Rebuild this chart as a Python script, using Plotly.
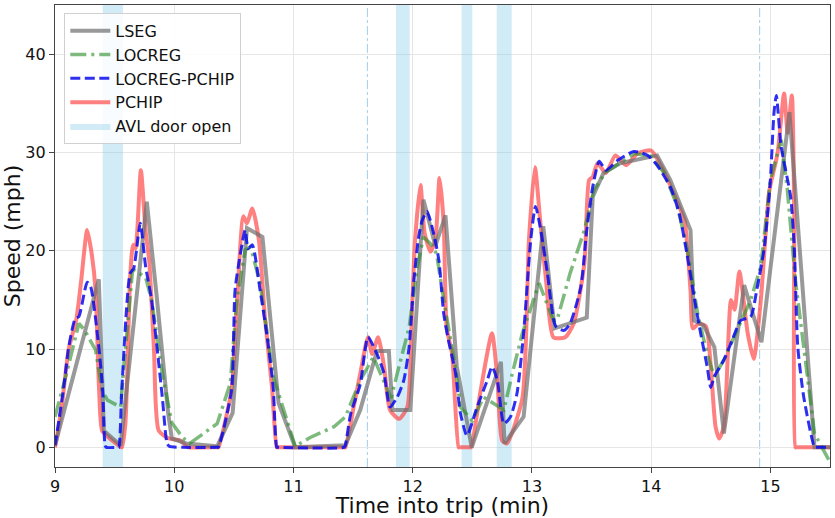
import plotly.graph_objects as go

# ---------------- data ----------------
lseg_t = [9.0, 9.10, 9.367, 9.39, 9.41, 9.55, 9.77, 9.85, 9.95, 9.98, 10.10, 10.36, 10.49, 10.61,
          10.74, 10.875, 11.015, 11.435, 11.56, 11.70, 11.80, 11.83, 11.98, 12.09, 12.19, 12.275,
          12.37, 12.495, 12.74, 12.77, 12.93, 13.095, 13.19, 13.46, 13.51, 13.60, 13.74, 14.05,
          14.16, 14.33, 14.36, 14.44, 14.53, 14.61, 14.78, 14.925, 15.16, 15.37, 15.5]
lseg_v = [0.2, 4.8, 17.1, 9.2, 1.7, 0.2, 25.0, 15.7, 3.4, 0.9, 0.4, 0.1, 3.5, 22.3,
          21.4, 4.5, 0.0, 0.2, 3.8, 9.8, 9.8, 3.8, 3.8, 25.2, 20.5, 23.6,
          8.2, 0.0, 8.7, 0.4, 3.1, 22.5, 12.1, 13.2, 25.5, 27.9, 28.9, 29.7,
          27.2, 22.1, 12.9, 12.4, 10.2, 1.4, 16.5, 10.7, 34.1, 0.0, 0.0]

locreg_t = [9.0, 9.09, 9.20, 9.25, 9.34, 9.395, 9.44, 9.55, 9.58, 9.65, 9.67, 9.76, 9.81, 9.90,
            9.98, 10.07, 10.13, 10.36, 10.47, 10.525, 10.595, 10.64, 10.72, 10.83, 11.015, 11.14,
            11.34, 11.435, 11.56, 11.67, 11.73, 11.82, 11.87, 11.97, 12.04, 12.09, 12.15, 12.20,
            12.27, 12.36, 12.40, 12.50, 12.595, 12.68, 12.765, 12.835, 12.92, 13.06, 13.18, 13.21,
            13.32, 13.44, 13.52, 13.62, 13.86, 14.0, 14.11, 14.22, 14.30, 14.39, 14.47, 14.53,
            14.61, 14.72, 14.835, 14.92, 15.0, 15.09, 15.14, 15.21, 15.28, 15.37, 15.5]
locreg_v = [3.1, 7.2, 12.6, 11.9, 9.9, 5.8, 4.8, 4.1, 8.5, 18.0, 18.0, 17.3, 15.0, 7.5,
            2.5, 1.0, 0.4, 2.4, 6.5, 15.0, 20.1, 20.4, 16.7, 7.2, 0.1, 1.0,
            2.1, 3.1, 6.8, 9.2, 7.5, 5.0, 7.5, 12.2, 18.4, 21.4, 20.7, 19.7,
            14.3, 8.0, 4.1, 2.7, 5.1, 4.4, 3.8, 7.5, 11.6, 16.7, 12.9, 12.9,
            17.7, 22.1, 26.2, 28.0, 29.9, 29.6, 27.9, 24.5, 20.4, 13.6, 9.5, 7.2,
            8.9, 11.9, 15.0, 18.4, 27.2, 31.3, 26.5, 17.0, 10.2, 1.4, -1.5]

lp_t = [9.0, 9.07, 9.115, 9.17, 9.2, 9.27, 9.30, 9.37, 9.40, 9.42, 9.43, 9.525, 9.535, 9.56,
        9.63, 9.66, 9.715, 9.76, 9.81, 9.90, 9.94, 9.96, 10.07, 10.36, 10.37, 10.48, 10.51,
        10.555, 10.595, 10.62, 10.655, 10.72, 10.78, 10.83, 10.86, 10.87, 11.425, 11.435, 11.48,
        11.56, 11.625, 11.70, 11.76, 11.81, 11.87, 11.925, 11.97, 12.01, 12.05, 12.08, 12.12,
        12.175, 12.22, 12.26, 12.30, 12.36, 12.40, 12.455, 12.54, 12.625, 12.665, 12.71, 12.765,
        12.82, 12.875, 12.93, 12.99, 13.03, 13.07, 13.13, 13.2, 13.27, 13.32, 13.41, 13.46,
        13.51, 13.565, 13.62, 13.72, 13.855, 13.97, 14.05, 14.16, 14.235, 14.30, 14.36, 14.415,
        14.47, 14.50, 14.53, 14.61, 14.68, 14.75, 14.835, 14.89, 14.95, 15.0, 15.03, 15.05,
        15.09, 15.17, 15.20, 15.23, 15.28, 15.37, 15.38, 15.5]
lp_v = [0.2, 5.8, 10.2, 13.1, 13.3, 16.8, 16.3, 9.9, 5.8, 0.2, 0.0, 0.0, 0.0, 5.8,
        17.7, 18.2, 22.8, 18.4, 15.0, 5.1, 0.4, 0.1, 0.0, 0.0, 0.0, 5.8, 16.0,
        19.7, 22.1, 20.2, 20.6, 16.0, 11.2, 6.1, 0.0, 0.0, 0.0, 0.2, 3.4,
        6.4, 11.2, 9.5, 7.5, 4.1, 5.1, 6.8, 10.2, 17.0, 21.4, 23.1, 24.0,
        21.8, 19.0, 13.6, 10.9, 7.5, 3.5, 1.2, 4.1, 6.8, 8.2, 6.8, 2.4,
        3.1, 5.5, 11.6, 21.1, 24.5, 22.4, 17.7, 12.3, 11.9, 12.6, 16.3, 22.1,
        26.5, 29.1, 28.2, 29.2, 30.1, 29.7, 28.7, 26.5, 23.8, 19.7, 15.3, 11.6,
        8.2, 6.1, 7.2, 8.9, 10.9, 12.9, 13.3, 16.3, 20.4, 27.2, 34.0, 35.8,
        30.6, 25.5, 20.4, 10.2, 5.1, 0.0, 0.0, 0.0]

pchip_t = [9.0, 9.03, 9.06, 9.115, 9.18, 9.22, 9.27, 9.31, 9.34, 9.37, 9.395, 9.45, 9.50, 9.55,
           9.56, 9.59, 9.63, 9.655, 9.675, 9.72, 9.76, 9.79, 9.83, 9.87, 9.955, 10.05, 10.11,
           10.12, 10.36, 10.37, 10.48, 10.525, 10.58, 10.61, 10.655, 10.71, 10.76, 10.82, 10.86,
           10.87, 11.425, 11.435, 11.505, 11.56, 11.625, 11.66, 11.71, 11.76, 11.81, 11.885, 11.955,
           11.995, 12.02, 12.065, 12.10, 12.15, 12.19, 12.225, 12.26, 12.285, 12.33, 12.385, 12.395,
           12.48, 12.49, 12.57, 12.665, 12.71, 12.75, 12.79, 12.92, 12.975, 13.025, 13.07, 13.12,
           13.18, 13.28, 13.35, 13.44, 13.48, 13.51, 13.55, 13.62, 13.70, 13.79, 13.885, 14.0,
           14.08, 14.14, 14.235, 14.28, 14.33, 14.35, 14.40, 14.46, 14.50, 14.54, 14.57, 14.61,
           14.67, 14.70, 14.74, 14.81, 14.86, 14.92, 14.99, 15.06, 15.115, 15.145, 15.18, 15.20,
           15.21, 15.22, 15.5]
pchip_v = [0.0, 2.0, 4.5, 10.0, 13.1, 17.0, 22.1, 19.5, 16.0, 5.8, 1.7, 1.0, 0.5, 0.05,
           0.0, 2.4, 17.3, 20.6, 20.2, 28.2, 22.0, 19.0, 10.0, 1.7, 0.9, 0.7, 0.05,
           0.0, 0.0, 0.0, 5.8, 14.3, 23.5, 22.8, 24.3, 21.1, 13.3, 6.1, 0.0,
           0.0, 0.0, 0.0, 4.1, 7.5, 11.2, 9.5, 11.2, 8.2, 3.8, 2.9, 4.1,
           14.3, 21.1, 26.7, 21.8, 19.9, 21.1, 27.4, 22.8, 12.2, 9.5, 0.0, 0.0,
           0.0, 0.0, 5.8, 11.6, 7.0, 0.7, 0.4, 5.0, 21.1, 28.5, 23.0, 16.8,
           11.2, 11.2, 12.6, 18.7, 27.2, 27.5, 28.9, 27.9, 29.7, 28.7, 29.9, 30.2,
           28.7, 27.2, 24.5, 23.1, 16.0, 12.1, 12.6, 12.3, 8.2, 2.1, 0.9, 2.1,
           15.0, 14.0, 17.9, 11.6, 9.0, 15.0, 26.0, 29.9, 36.0, 32.0, 35.8, 23.8,
           0.0, 0.0, 0.0]

door_start = [9.40, 11.86, 12.41, 12.705]
door_end = [9.57, 11.975, 12.50, 12.83]
event_lines = [11.62, 14.91]

x_range = [9, 15.5]
y_range = [-2, 45]
x_ticks = [9, 10, 11, 12, 13, 14, 15]
y_ticks = [0, 10, 20, 30, 40]

# ---------------- figure ----------------
fig = go.Figure()

# door-open spans as a filled trace (one legend entry)
span_x, span_y = [], []
for a, b in zip(door_start, door_end):
    span_x += [a, a, b, b, a, None]
    span_y += [y_range[0] - 5, y_range[1] + 5, y_range[1] + 5, y_range[0] - 5, y_range[0] - 5, None]
fig.add_trace(go.Scatter(x=span_x, y=span_y, mode="lines", fill="toself",
                         fillcolor="rgba(135,206,235,0.38)", line=dict(width=0),
                         name="AVL door open", legendrank=5, hoverinfo="skip"))

fig.add_trace(go.Scatter(x=pchip_t, y=pchip_v, mode="lines", name="PCHIP", legendrank=4,
                         line=dict(color="rgba(255,60,60,0.65)", width=4, shape="spline", smoothing=0.6)))
fig.add_trace(go.Scatter(x=lseg_t, y=lseg_v, mode="lines", name="LSEG", legendrank=1,
                         line=dict(color="rgba(110,110,110,0.7)", width=4)))
fig.add_trace(go.Scatter(x=locreg_t, y=locreg_v, mode="lines", name="LOCREG", legendrank=2,
                         line=dict(color="rgba(40,140,40,0.6)", width=3.5, dash="16px,5px,3px,5px")))
fig.add_trace(go.Scatter(x=lp_t, y=lp_v, mode="lines", name="LOCREG-PCHIP", legendrank=3,
                         line=dict(color="rgba(10,10,240,0.85)", width=3, dash="10px,4.5px",
                                   shape="spline", smoothing=0.6)))

for xv in event_lines:
    fig.add_shape(type="line", x0=xv, x1=xv, xref="x", y0=0, y1=1, yref="y domain",
                  line=dict(color="rgba(150,200,230,0.9)", width=1, dash="dashdot"), layer="below")

axis_common = dict(showline=True, linecolor="#444", linewidth=1.2, mirror=True,
                   ticks="outside", ticklen=5, tickcolor="#444", automargin=False,
                   showgrid=True, gridcolor="#e6e6e6", gridwidth=1, zeroline=False,
                   tickfont=dict(size=16, color="#111"))

fig.update_layout(
    width=835, height=518,
    margin=dict(l=55, r=5, t=5, b=51),
    paper_bgcolor="white", plot_bgcolor="white",
    font=dict(family="DejaVu Sans", color="#111"),
    xaxis=dict(range=x_range, tickvals=x_ticks,
               title=dict(text="Time into trip (min)", font=dict(size=22), standoff=1),
               **axis_common),
    yaxis=dict(range=y_range, tickvals=y_ticks,
               title=dict(text="Speed (mph)", font=dict(size=22), standoff=2),
               **axis_common),
    legend=dict(x=0.012, y=0.983, xanchor="left", yanchor="top",
                bgcolor="rgba(255,255,255,0.85)", bordercolor="#d0d0d0", borderwidth=1,
                font=dict(size=16), itemwidth=40, tracegroupgap=2),
    showlegend=True,
)

fig.write_html("out.html", config={"displayModeBar": False},
               post_script="document.body.style.margin='0';document.body.style.overflow='hidden';")
